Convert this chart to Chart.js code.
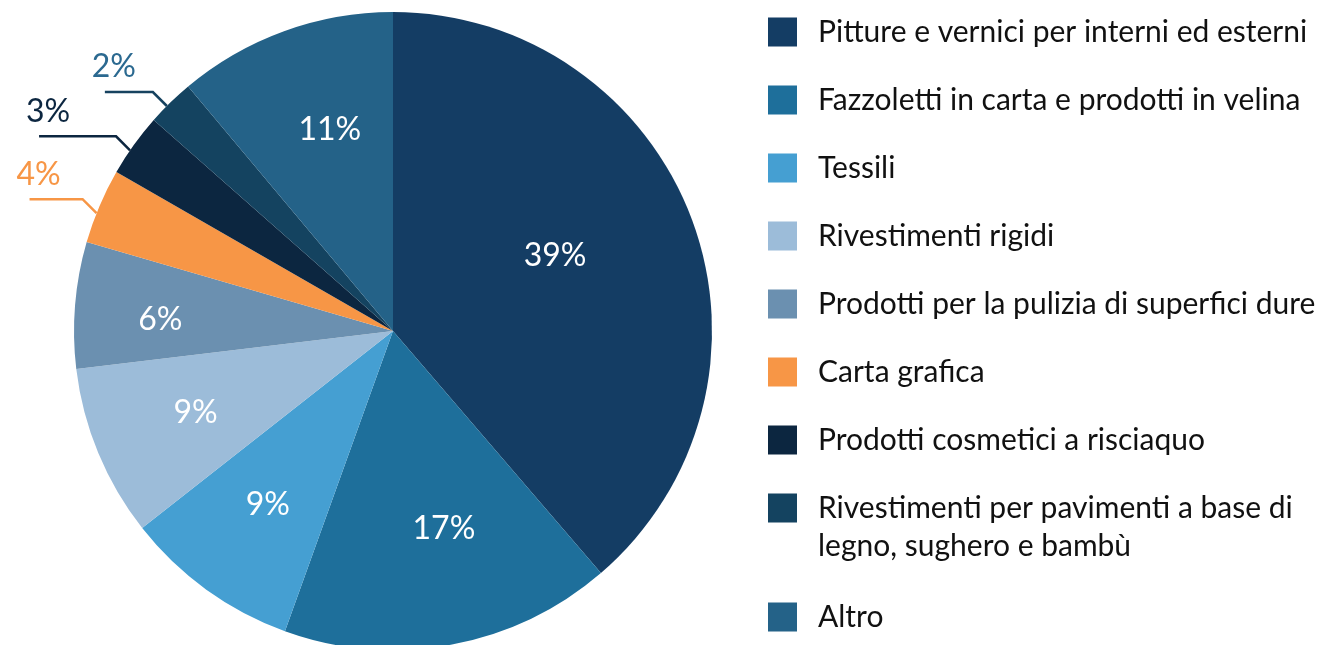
<!DOCTYPE html>
<html>
<head>
<meta charset="utf-8">
<script src="https://cdn.jsdelivr.net/npm/chart.js@4.4.1/dist/chart.umd.min.js"></script>
<style>
  html, body { margin: 0; padding: 0; background: #fff; overflow: hidden; }
  #wrap { position: absolute; left: 0; top: 0; width: 1342px; height: 662px; }
</style>
</head>
<body>
<div id="wrap"><canvas id="pie"></canvas></div>
<script>
var categories = [
  'Pitture e vernici per interni ed esterni',
  'Fazzoletti in carta e prodotti in velina',
  'Tessili',
  'Rivestimenti rigidi',
  'Prodotti per la pulizia di superfici dure',
  'Carta grafica',
  'Prodotti cosmetici a risciaquo',
  'Rivestimenti per pavimenti a base di legno, sughero e bambù',
  'Altro'
];
var shares = [38.7, 16.8, 8.9, 8.7, 6.4, 3.8, 3.2, 2.4, 11.1];
var sliceColors = ['#143d64', '#1e6f9b', '#459fd2', '#9cbcd9', '#6b90b0', '#f79646', '#0c2640', '#144360', '#246288'];

// label placement: inside labels get a radius factor (+ small angle nudge), small slices get a leader line
var labelRadius = [0.56, 0.64, 0.67, 0.67, 0.73, null, null, null, 0.66];
var labelNudge = [-4.5, -4, 0, 0, -2, 0, 0, 0, 2.5];
var leaderLength = [0, 0, 0, 0, 0, 53, 77, 48, 0];
var leaderColors = [null, null, null, null, null, '#f79646', '#0c2640', '#16425f', null];
var outsideTextColors = [null, null, null, null, null, '#f79646', '#0c2640', '#2b6990', null];

var FONT = 'Lato, "Open Sans", sans-serif';

var pieLabels = {
  id: 'pieLabels',
  afterDatasetsDraw: function(chart) {
    var ctx = chart.ctx;
    var meta = chart.getDatasetMeta(0);
    var data = chart.data.datasets[0].data;
    var total = data.reduce(function(s, v) { return s + v; }, 0);
    ctx.save();
    ctx.font = '32px ' + FONT;
    ctx.textAlign = 'center';
    ctx.textBaseline = 'middle';
    meta.data.forEach(function(arc, i) {
      var p = arc.getProps(['x', 'y', 'startAngle', 'endAngle', 'outerRadius'], true);
      var txt = Math.round(data[i] / total * 100) + '%';
      if (labelRadius[i]) {
        var mid = (p.startAngle + p.endAngle) / 2 + labelNudge[i] * Math.PI / 180;
        var r = p.outerRadius * labelRadius[i];
        ctx.fillStyle = '#ffffff';
        ctx.fillText(txt, p.x + Math.cos(mid) * r, p.y + Math.sin(mid) * r);
      } else {
        var a = p.startAngle + (p.endAngle - p.startAngle) * 0.4;
        var ax = p.x + Math.cos(a) * p.outerRadius;
        var ay = p.y + Math.sin(a) * p.outerRadius;
        var ex = ax - 14, ey = ay - 14;
        var lx = ex - leaderLength[i];
        ctx.strokeStyle = leaderColors[i];
        ctx.lineWidth = 2.5;
        ctx.beginPath();
        ctx.moveTo(ax, ay);
        ctx.lineTo(ex, ey);
        ctx.lineTo(lx, ey);
        ctx.stroke();
        ctx.fillStyle = outsideTextColors[i];
        ctx.fillText(txt, lx + 9, ey - 25);
      }
    });
    ctx.restore();
  }
};

function wrapText(ctx, text, maxWidth) {
  var words = text.split(' '), lines = [], line = '';
  words.forEach(function(w) {
    var test = line ? line + ' ' + w : w;
    if (ctx.measureText(test).width > maxWidth && line) { lines.push(line); line = w; }
    else line = test;
  });
  if (line) lines.push(line);
  return lines;
}

var sideLegend = {
  id: 'sideLegend',
  afterDraw: function(chart) {
    var ctx = chart.ctx;
    var bg = chart.data.datasets[0].backgroundColor;
    ctx.save();
    ctx.font = '30px ' + FONT;
    ctx.textAlign = 'left';
    ctx.textBaseline = 'middle';
    var y = 32;
    chart.data.labels.forEach(function(label, i) {
      ctx.fillStyle = bg[i];
      ctx.fillRect(768, y - 14.5, 29, 29);
      ctx.fillStyle = '#111111';
      var lines = wrapText(ctx, label, 522);
      lines.forEach(function(l, k) { ctx.fillText(l, 818, y + k * 38); });
      y += 68 + (lines.length - 1) * 41;
    });
    ctx.restore();
  }
};

new Chart(document.getElementById('pie'), {
  type: 'pie',
  data: {
    labels: categories,
    datasets: [{ data: shares, backgroundColor: sliceColors, borderWidth: 0 }]
  },
  options: {
    responsive: true, maintainAspectRatio: false, animation: false,
    layout: { padding: { left: 74, top: 12, right: 630, bottom: 12 } },
    plugins: { legend: { display: false }, tooltip: { enabled: false } }
  },
  plugins: [pieLabels, sideLegend]
});
</script>
</body>
</html>
